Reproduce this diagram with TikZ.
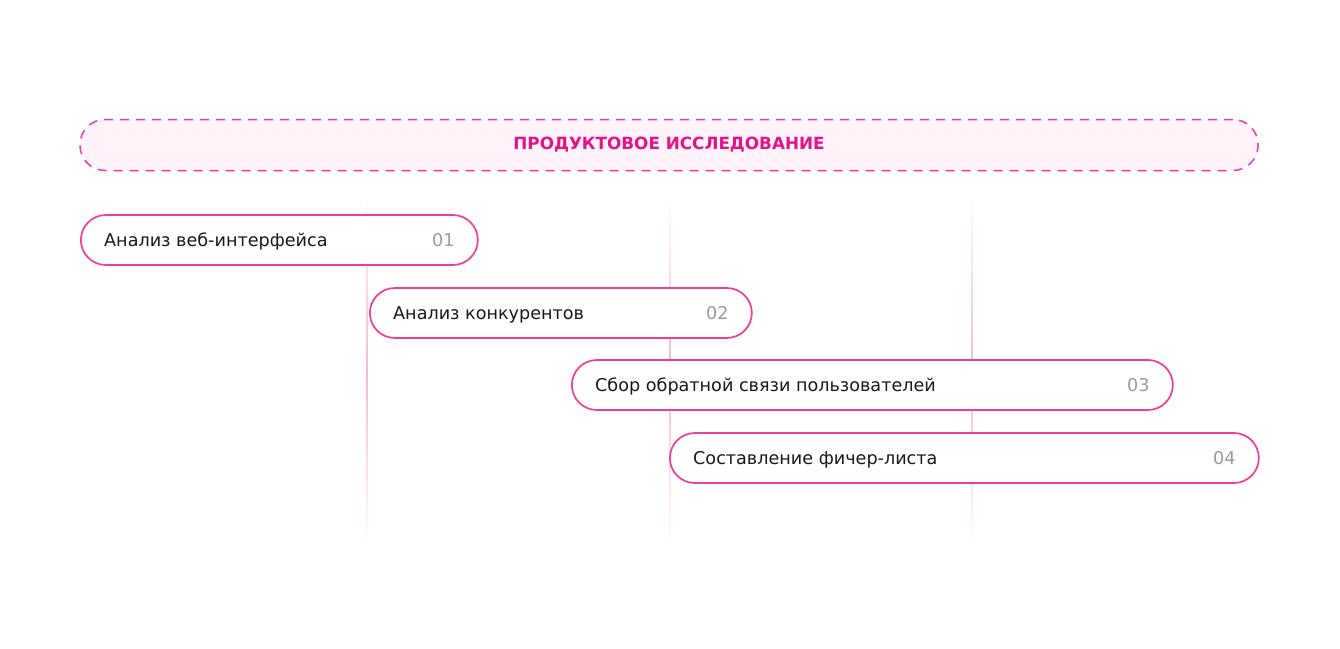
\documentclass[tikz,border=0pt]{standalone}
\usepackage{fontspec}
\setmainfont{DejaVu Sans}
\usetikzlibrary{positioning}
\definecolor{rozovy}{HTML}{EE3E98}
\definecolor{malinovy}{HTML}{E5138A}
\definecolor{fonrozovy}{HTML}{FFF2F9}
\definecolor{liniya}{HTML}{F5B8D5}
\definecolor{seryj}{HTML}{9A9A9A}
\tikzstyle{shapka} = [rectangle, rounded corners=25pt, minimum height=51pt, text centered, draw=rozovy, line width=1.5pt, dash pattern=on 9pt off 7pt, fill=fonrozovy, text=malinovy, font=\bfseries\fontsize{16.8}{20}\selectfont]
\tikzstyle{etap} = [rectangle, rounded corners=25pt, minimum height=50pt, anchor=west, draw=rozovy, line width=1.7pt, fill=white]
\tikzstyle{podpis} = [inner sep=0pt, text height=12.6pt, text depth=0pt, text=black!90, font=\fontsize{17.6}{20}\selectfont]
\tikzstyle{nomer} = [podpis, text=seryj]

\begin{document}
\begin{tikzpicture}[x=1pt, y=-1pt]
        \fill[white] (0,0) rectangle (1340,648);
        \foreach \x in {367,670,972}
            \shade[top color=white, bottom color=white, middle color=liniya] (\x-0.8,195) rectangle (\x+0.8,545);

        \node (shapka) [shapka, minimum width=1178pt] at (669,145) {ПРОДУКТОВОЕ ИССЛЕДОВАНИЕ};

        \node (etap1) [etap, minimum width=397pt] at (80,240) {};
        \node (etap2) [etap, minimum width=382pt] at (369,313) {};
        \node (etap3) [etap, minimum width=601pt] at (571,385) {};
        \node (etap4) [etap, minimum width=589pt] at (669,458) {};

        \node (tekst1) [podpis, right=24pt of etap1.west] {Анализ веб-интерфейса};
        \node (tekst2) [podpis, right=24pt of etap2.west] {Анализ конкурентов};
        \node (tekst3) [podpis, right=24pt of etap3.west] {Сбор обратной связи пользователей};
        \node (tekst4) [podpis, right=24pt of etap4.west] {Составление фичер-листа};

        \node (nomer1) [nomer, left=24pt of etap1.east] {01};
        \node (nomer2) [nomer, left=24pt of etap2.east] {02};
        \node (nomer3) [nomer, left=24pt of etap3.east] {03};
        \node (nomer4) [nomer, left=24pt of etap4.east] {04};
    \end{tikzpicture}
\end{document}
